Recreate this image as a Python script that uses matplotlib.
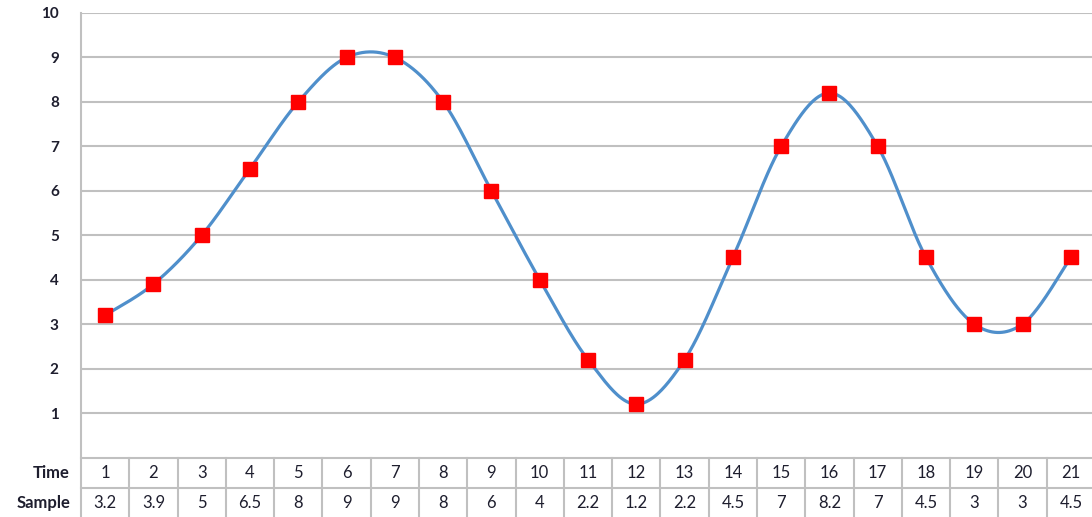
import numpy as np
import matplotlib
matplotlib.use("Agg")
import matplotlib.pyplot as plt
from matplotlib.transforms import blended_transform_factory

# Data
time = [1, 2, 3, 4, 5, 6, 7, 8, 9, 10, 11, 12, 13, 14, 15, 16, 17, 18, 19, 20, 21]
sample = [3.2, 3.9, 5, 6.5, 8, 9, 9, 8, 6, 4, 2.2, 1.2, 2.2, 4.5, 7, 8.2, 7, 4.5, 3, 3, 4.5]
y_ticks = [1, 2, 3, 4, 5, 6, 7, 8, 9, 10]
row_labels = ["Time", "Sample"]


def smooth_curve(xs, ys, steps=40):
    """Catmull-Rom style smoothing (cubic Bezier with 1/6 control offsets)."""
    xs = np.asarray(xs, float)
    ys = np.asarray(ys, float)
    n = len(xs)
    out_x, out_y = [], []
    for i in range(n - 1):
        p0 = np.array([xs[max(i - 1, 0)], ys[max(i - 1, 0)]])
        p1 = np.array([xs[i], ys[i]])
        p2 = np.array([xs[i + 1], ys[i + 1]])
        p3 = np.array([xs[min(i + 2, n - 1)], ys[min(i + 2, n - 1)]])
        c1 = p1 + (p2 - p0) / 6.0
        c2 = p2 - (p3 - p1) / 6.0
        t = np.linspace(0, 1, steps, endpoint=(i == n - 2))[:, None]
        pts = ((1 - t) ** 3) * p1 + 3 * ((1 - t) ** 2) * t * c1 + 3 * (1 - t) * t ** 2 * c2 + t ** 3 * p2
        out_x.extend(pts[:, 0])
        out_y.extend(pts[:, 1])
    return np.array(out_x), np.array(out_y)


W, H = 1092, 517
fig = plt.figure(figsize=(W / 100, H / 100), dpi=100)
fig.patch.set_facecolor("white")

left_px, right_px = 81, 1095
top_px, bottom_px = 13, 457.5
ax = fig.add_axes([left_px / W, 1 - bottom_px / H, (right_px - left_px) / W, (bottom_px - top_px) / H])

ax.set_xlim(0.5, len(time) + 0.5)
ax.set_ylim(0, 10)

grid_color = "#C0C0C0"
text_color = "#1E1E2E"
font = ["Lato", "DejaVu Sans"]

for v in y_ticks:
    ax.axhline(v, color=grid_color, lw=1.5, zorder=1)

for s in ax.spines.values():
    s.set_visible(False)

ax.set_xticks([])
ax.set_yticks(y_ticks)
ax.tick_params(axis="y", length=0, pad=16)
for lbl in ax.get_yticklabels():
    lbl.set_fontfamily(font)
    lbl.set_fontsize(11)
    lbl.set_fontweight("bold")
    lbl.set_color(text_color)

# Smoothed line and markers
sx, sy = smooth_curve(time, sample)
ax.plot(sx, sy, color="#4F8FCB", lw=2.3, zorder=3, solid_capstyle="round")
ax.plot(time, sample, linestyle="none", marker="s", markersize=9.5,
        markerfacecolor="#FF0000", markeredgecolor="#FF0000", zorder=4)

# Data table below the plot
row_h = 30.5 / (bottom_px - top_px)
trans = blended_transform_factory(ax.transData, ax.transAxes)
line_kw = dict(color=grid_color, lw=1.5, clip_on=False, zorder=1)

ax.plot([0.5, 0.5], [1, -2 * row_h - 0.05], transform=trans, **line_kw)
ax.plot([0.5, len(time) + 0.5], [0, 0], transform=trans, **line_kw)
ax.plot([0.5, len(time) + 0.5], [-row_h, -row_h], transform=trans, **line_kw)
for k in range(1, len(time) + 1):
    xb = k + 0.5
    ax.plot([xb, xb], [0, -2 * row_h - 0.05], transform=trans, **line_kw)

for t, v in zip(time, sample):
    ax.text(t, -0.5 * row_h, f"{t}", transform=trans, ha="center", va="center",
            fontsize=12, color=text_color, fontfamily=font, clip_on=False)
    ax.text(t, -1.5 * row_h, f"{v:g}", transform=trans, ha="center", va="center",
            fontsize=12, color=text_color, fontfamily=font, clip_on=False)

label_x = blended_transform_factory(fig.transFigure, ax.transAxes)
for r, name in enumerate(row_labels):
    ax.text(70 / W, -(r + 0.5) * row_h, name, transform=label_x, ha="right", va="center",
            fontsize=12, fontweight="bold", color=text_color, fontfamily=font, clip_on=False)

fig.savefig("out.png", dpi=100, facecolor="white")
